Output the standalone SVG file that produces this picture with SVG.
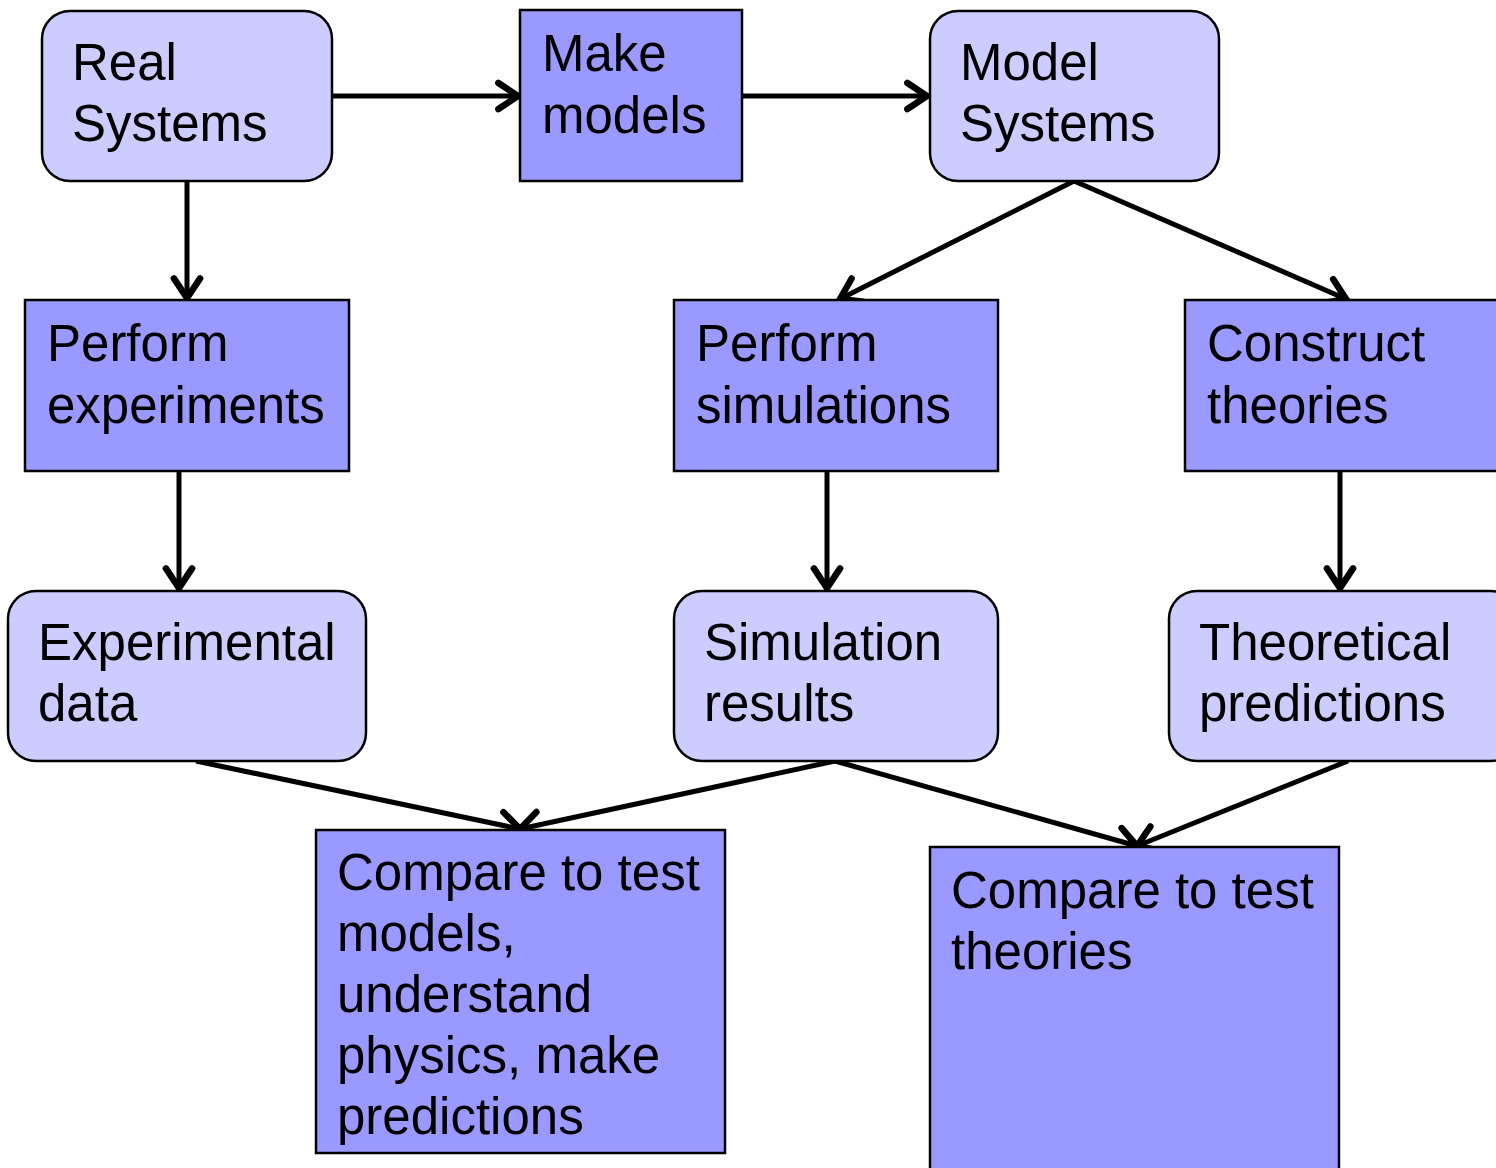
<svg xmlns="http://www.w3.org/2000/svg" width="1496" height="1168" viewBox="0 0 1496 1168">
<style>
.light{fill:#CCCCFF;stroke:#000;stroke-width:2.5}
.dark{fill:#9999FF;stroke:#000;stroke-width:2.5}
text{font-family:"Liberation Sans",Arial,sans-serif;font-size:51px;fill:#000}
.conn line{stroke:#000;stroke-width:5;marker-end:url(#arr)}
</style>
<defs>
<marker id="arr" markerUnits="userSpaceOnUse" markerWidth="34" markerHeight="34" viewBox="-18 -13 22 26" refX="0" refY="0" orient="auto">
<path d="M-15,-10 L0,0 L-15,10" fill="none" stroke="#000" stroke-width="5" stroke-linecap="round" stroke-linejoin="miter"/>
</marker>
</defs>
<rect width="1496" height="1168" fill="#fff"/>
<g class="conn" id="connectors">
<line x1="332" y1="96" x2="518" y2="96"/>
<line x1="742" y1="96" x2="927" y2="96"/>
<line x1="187" y1="181" x2="187" y2="298"/>
<line x1="1074" y1="181" x2="840" y2="299"/>
<line x1="1074" y1="181" x2="1346" y2="299"/>
<line x1="179" y1="471" x2="179" y2="588"/>
<line x1="827" y1="471" x2="827" y2="588"/>
<line x1="1340" y1="471" x2="1340" y2="588"/>
<line x1="196" y1="761" x2="520" y2="829"/>
<line x1="835" y1="761" x2="520" y2="829"/>
<line x1="835" y1="761" x2="1137" y2="846"/>
<line x1="1348" y1="761" x2="1137" y2="846"/>
</g>
<g id="real-systems"><rect class="light" x="42" y="11" width="290" height="170" rx="28"/><text x="72" y="80">Real</text><text x="72" y="141">Systems</text></g>
<g id="make-models"><rect class="dark" x="520" y="10" width="222" height="171"/><text x="542" y="71">Make</text><text x="542" y="133">models</text></g>
<g id="model-systems"><rect class="light" x="930" y="11" width="289" height="170" rx="28"/><text x="960" y="80">Model</text><text x="960" y="141">Systems</text></g>
<g id="perform-experiments"><rect class="dark" x="25" y="300" width="324" height="171"/><text x="47" y="361">Perform</text><text x="47" y="423">experiments</text></g>
<g id="perform-simulations"><rect class="dark" x="674" y="300" width="324" height="171"/><text x="696" y="361">Perform</text><text x="696" y="423">simulations</text></g>
<g id="construct-theories"><rect class="dark" x="1185" y="300" width="324" height="171"/><text x="1207" y="361">Construct</text><text x="1207" y="423">theories</text></g>
<g id="experimental-data"><rect class="light" x="8" y="591" width="358" height="170" rx="28"/><text x="38" y="660">Experimental</text><text x="38" y="721">data</text></g>
<g id="simulation-results"><rect class="light" x="674" y="591" width="324" height="170" rx="28"/><text x="704" y="660">Simulation</text><text x="704" y="721">results</text></g>
<g id="theoretical-predictions"><rect class="light" x="1169" y="591" width="350" height="170" rx="28"/><text x="1199" y="660">Theoretical</text><text x="1199" y="721">predictions</text></g>
<g id="compare-models"><rect class="dark" x="316" y="830" width="409" height="323"/>
<text x="337" y="890">Compare to test</text><text x="337" y="951">models,</text><text x="337" y="1012">understand</text><text x="337" y="1073">physics, make</text><text x="337" y="1134">predictions</text></g>
<g id="compare-theories"><rect class="dark" x="930" y="847" width="409" height="340"/><text x="951" y="908">Compare to test</text><text x="951" y="969">theories</text></g>
</svg>
